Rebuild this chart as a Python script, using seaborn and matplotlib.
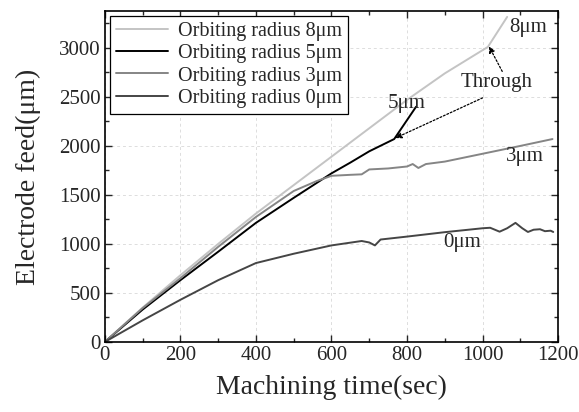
import matplotlib
matplotlib.use("Agg")
import matplotlib.pyplot as plt
import seaborn as sns
import pandas as pd
from matplotlib.ticker import MultipleLocator

# ---- data ----
t8 = [0, 100, 200, 300, 400, 500, 600, 700, 800, 900, 1014, 1065]
f8 = [0, 350, 680, 1000, 1310, 1600, 1890, 2180, 2470, 2740, 3010, 3316]

t5 = [0, 100, 200, 300, 400, 500, 600, 650, 700, 766, 824]
f5 = [0, 330, 630, 920, 1215, 1470, 1720, 1830, 1945, 2070, 2400]

t3 = [0, 100, 200, 300, 400, 500, 530, 560, 600, 650, 680, 700, 750, 800, 815,
      830, 850, 900, 1000, 1100, 1185]
f3 = [0, 345, 650, 970, 1275, 1540, 1590, 1640, 1695, 1705, 1710, 1760, 1770,
      1790, 1815, 1775, 1815, 1840, 1920, 2000, 2070]

t0 = [0, 100, 200, 300, 400, 500, 600, 680, 700, 715, 730, 800, 900, 1000,
      1020, 1045, 1065, 1087, 1105, 1120, 1135, 1152, 1165, 1180, 1187]
f0 = [0, 220, 430, 630, 805, 900, 985, 1030, 1015, 985, 1045, 1075, 1120,
      1160, 1165, 1125, 1160, 1215, 1160, 1122, 1145, 1150, 1130, 1135, 1122]

labels = ["Orbiting radius 8μm", "Orbiting radius 5μm",
          "Orbiting radius 3μm", "Orbiting radius 0μm"]
colors = ["#c4c4c4", "#000000", "#858585", "#454545"]
series = [(t8, f8), (t5, f5), (t3, f3), (t0, f0)]

sns.set_style("ticks")
plt.rcParams['font.family'] = ['Liberation Serif', 'DejaVu Serif']
plt.rcParams['mathtext.fontset'] = 'stix'

fig = plt.figure(figsize=(5.79, 4.12), dpi=100)
ax = fig.add_axes([0.181, 0.170, 0.783, 0.803])

for (t, f), lab, c in zip(series, labels, colors):
    df = pd.DataFrame({"t": t, "f": f})
    sns.lineplot(data=df, x="t", y="f", ax=ax, color=c, lw=1.4, label=lab,
                 estimator=None, sort=False)

ax.set_xlim(0, 1200)
ax.set_ylim(0, 3375)
ax.xaxis.set_major_locator(MultipleLocator(200))
ax.xaxis.set_minor_locator(MultipleLocator(100))
ax.yaxis.set_major_locator(MultipleLocator(500))
ax.yaxis.set_minor_locator(MultipleLocator(250))
ax.tick_params(which='both', direction='in', top=True, right=True,
               labelsize=15, width=1.0, pad=3)
ax.tick_params(which='major', length=5)
ax.tick_params(which='minor', length=3)
ax.grid(True, which='major', ls=(0, (3, 3)), color='#dddddd', lw=0.7)
for s in ax.spines.values():
    s.set_linewidth(1.2)
    s.set_color('black')

ax.set_xlabel("Machining time(sec)", fontsize=20, labelpad=7)
ax.set_ylabel("Electrode feed(μm)", fontsize=20, labelpad=13)

leg = ax.legend(loc='upper left', fontsize=14.5, frameon=True, fancybox=False,
                edgecolor='black', framealpha=1, handlelength=2.6,
                borderaxespad=0.25, labelspacing=0.15, borderpad=0.3,
                handletextpad=0.5)
leg.get_frame().set_linewidth(0.9)

# annotations
ax.text(1121, 3204, "8μm", fontsize=15, ha='center', va='center')
ax.text(800, 2428, "5μm", fontsize=15, ha='center', va='center')
ax.text(1113, 1890, "3μm", fontsize=15, ha='center', va='center')
ax.text(946, 1010, "0μm", fontsize=15, ha='center', va='center')
ax.text(1038, 2650, "Through", fontsize=15, ha='center', va='center')

arrow = dict(arrowstyle='-|>', ls=(0, (1.5, 1.5)), lw=0.9, color='black',
             mutation_scale=9, shrinkA=0, shrinkB=0)
ax.annotate("", xy=(769, 2080), xytext=(1000, 2490), arrowprops=arrow)
ax.annotate("", xy=(1017, 3015), xytext=(1052, 2760), arrowprops=arrow)

fig.savefig("out.png", dpi=100)
